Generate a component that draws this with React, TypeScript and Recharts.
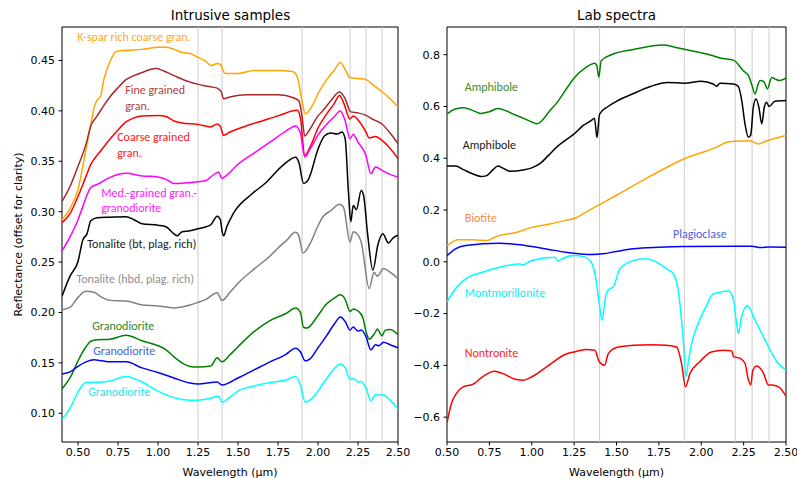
import { LineChart, Line, XAxis, YAxis, ReferenceLine, ReferenceArea, ReferenceDot } from "recharts";

type P = [number, number];

// wavelengths marked with thin grey lines (µm)
const bands = [1.25, 1.4, 1.9, 2.2, 2.3, 2.4];
const xTicksL = [0.5, 0.75, 1.0, 1.25, 1.5, 1.75, 2.0, 2.25, 2.5];
const xTicksR = [0.5, 0.75, 1.0, 1.25, 1.5, 1.75, 2.0, 2.25, 2.5];
const yTicksL = [0.1, 0.15, 0.2, 0.25, 0.3, 0.35, 0.4, 0.45];
const yTicksR = [-0.6, -0.4, -0.2, 0.0, 0.2, 0.4, 0.6, 0.8];

// ---- intrusive samples (wavelength, reflectance) ----
const kspar: P[] = [
  [0.4, 0.292], [0.45, 0.303], [0.5, 0.322], [0.55, 0.362], [0.58, 0.386], [0.6, 0.403], [0.62, 0.411],
  [0.64, 0.414], [0.66, 0.43], [0.7, 0.449], [0.74, 0.459], [0.8, 0.46], [0.9, 0.461], [1.0, 0.463],
  [1.05, 0.463], [1.1, 0.461], [1.15, 0.458], [1.2, 0.457], [1.25, 0.453], [1.3, 0.449], [1.33, 0.445],
  [1.37, 0.447], [1.39, 0.446], [1.42, 0.437], [1.5, 0.437], [1.6, 0.44], [1.75, 0.44], [1.84, 0.439],
  [1.87, 0.434], [1.9, 0.41], [1.92, 0.397], [1.96, 0.404], [2.0, 0.417], [2.05, 0.43], [2.1, 0.44],
  [2.14, 0.448], [2.17, 0.441], [2.2, 0.433], [2.25, 0.432], [2.3, 0.431], [2.35, 0.425], [2.4, 0.419],
  [2.45, 0.412], [2.5, 0.404],
];
const fineGran: P[] = [
  [0.4, 0.31], [0.45, 0.325], [0.5, 0.345], [0.55, 0.367], [0.58, 0.385], [0.62, 0.395], [0.66, 0.405],
  [0.7, 0.414], [0.75, 0.423], [0.8, 0.431], [0.85, 0.435], [0.9, 0.438], [0.95, 0.441], [0.99, 0.442],
  [1.03, 0.44], [1.1, 0.435], [1.2, 0.4285], [1.3, 0.4246], [1.37, 0.4226], [1.395, 0.419], [1.41, 0.412],
  [1.45, 0.4137], [1.55, 0.416], [1.75, 0.416], [1.85, 0.4127], [1.88, 0.41], [1.9, 0.395], [1.917, 0.375],
  [1.95, 0.382], [2.0, 0.395], [2.03, 0.4], [2.08, 0.41], [2.135, 0.4186], [2.17, 0.412], [2.204, 0.399],
  [2.25, 0.398], [2.3, 0.3955], [2.35, 0.391], [2.4, 0.387], [2.45, 0.378], [2.5, 0.3675],
];
const coarseGran: P[] = [
  [0.4, 0.289], [0.45, 0.298], [0.5, 0.315], [0.55, 0.335], [0.58, 0.347], [0.6, 0.352], [0.65, 0.362],
  [0.7, 0.372], [0.75, 0.381], [0.8, 0.389], [0.85, 0.393], [0.9, 0.395], [1.0, 0.3955], [1.05, 0.3944],
  [1.1, 0.39], [1.15, 0.388], [1.25, 0.3866], [1.33, 0.384], [1.37, 0.387], [1.39, 0.3846], [1.41, 0.3757],
  [1.45, 0.379], [1.55, 0.385], [1.65, 0.39], [1.75, 0.395], [1.87, 0.4005], [1.89, 0.393], [1.917, 0.3558],
  [1.95, 0.364], [2.0, 0.383], [2.05, 0.396], [2.1, 0.407], [2.135, 0.4153], [2.16, 0.408], [2.2, 0.392],
  [2.22, 0.395], [2.26, 0.389], [2.3, 0.379], [2.32, 0.373], [2.36, 0.3745], [2.4, 0.3707], [2.45, 0.363],
  [2.5, 0.3526],
];
const medGran: P[] = [
  [0.4, 0.261], [0.45, 0.275], [0.5, 0.292], [0.53, 0.305], [0.56, 0.318], [0.58, 0.324], [0.62, 0.327],
  [0.7, 0.334], [0.8, 0.338], [0.9, 0.3355], [1.0, 0.3345], [1.05, 0.332], [1.1, 0.328], [1.2, 0.329],
  [1.3, 0.331], [1.36, 0.338], [1.38, 0.339], [1.4, 0.333], [1.42, 0.335], [1.5, 0.347], [1.6, 0.358],
  [1.7, 0.369], [1.8, 0.38], [1.86, 0.385], [1.89, 0.378], [1.917, 0.3542], [1.95, 0.362], [2.0, 0.376],
  [2.05, 0.386], [2.1, 0.394], [2.139, 0.3998], [2.17, 0.39], [2.2, 0.3724], [2.22, 0.3768], [2.25, 0.369],
  [2.3, 0.3558], [2.33, 0.3377], [2.36, 0.3443], [2.4, 0.341], [2.45, 0.337], [2.5, 0.3344],
];
const tonaliteBt: P[] = [
  [0.4, 0.216], [0.45, 0.236], [0.5, 0.2506], [0.53, 0.272], [0.556, 0.278], [0.58, 0.291], [0.62, 0.294],
  [0.7, 0.2945], [0.8, 0.295], [0.85, 0.292], [0.9, 0.288], [1.0, 0.2865], [1.05, 0.285], [1.1, 0.278],
  [1.12, 0.276], [1.15, 0.28], [1.2, 0.281], [1.25, 0.283], [1.3, 0.285], [1.33, 0.287], [1.37, 0.2955],
  [1.39, 0.292], [1.4, 0.281], [1.41, 0.276], [1.43, 0.285], [1.47, 0.298], [1.59, 0.318], [1.676, 0.329],
  [1.78, 0.346], [1.86, 0.354], [1.88, 0.349], [1.91, 0.328], [1.94, 0.332], [2.0, 0.362], [2.04, 0.375],
  [2.08, 0.378], [2.12, 0.377], [2.15, 0.379], [2.17, 0.372], [2.19, 0.32], [2.205, 0.29], [2.22, 0.306],
  [2.24, 0.302], [2.27, 0.321], [2.285, 0.316], [2.31, 0.278], [2.343, 0.242], [2.374, 0.267], [2.405, 0.278],
  [2.44, 0.269], [2.47, 0.274], [2.5, 0.2766],
];
const tonaliteHbd: P[] = [
  [0.4, 0.2028], [0.45, 0.205], [0.5, 0.215], [0.55, 0.221], [0.6, 0.22], [0.65, 0.215], [0.7, 0.212],
  [0.8, 0.2115], [0.9, 0.2075], [1.0, 0.2065], [1.1, 0.2045], [1.2, 0.2075], [1.25, 0.21], [1.3, 0.213],
  [1.37, 0.2195], [1.4, 0.212], [1.45, 0.22], [1.5, 0.229], [1.6, 0.243], [1.7, 0.256], [1.75, 0.264],
  [1.8, 0.271], [1.86, 0.2795], [1.88, 0.276], [1.906, 0.259], [1.95, 0.268], [2.0, 0.286], [2.03, 0.2947],
  [2.08, 0.301], [2.135, 0.3073], [2.16, 0.304], [2.2, 0.27], [2.22, 0.28], [2.25, 0.277], [2.27, 0.27],
  [2.32, 0.2237], [2.35, 0.24], [2.37, 0.236], [2.41, 0.2436], [2.45, 0.24], [2.5, 0.2337],
];
const granoGreen: P[] = [
  [0.4, 0.1241], [0.45, 0.135], [0.5, 0.152], [0.55, 0.166], [0.58, 0.1715], [0.62, 0.173], [0.7, 0.1735],
  [0.8, 0.1775], [0.9, 0.172], [1.0, 0.167], [1.05, 0.163], [1.1, 0.156], [1.15, 0.15], [1.2, 0.1465],
  [1.25, 0.146], [1.33, 0.147], [1.37, 0.155], [1.4, 0.151], [1.45, 0.158], [1.5, 0.166], [1.6, 0.181],
  [1.7, 0.192], [1.8, 0.199], [1.86, 0.2045], [1.89, 0.2], [1.91, 0.185], [1.93, 0.1845], [2.0, 0.197],
  [2.05, 0.208], [2.1, 0.214], [2.14, 0.2175], [2.17, 0.213], [2.2, 0.201], [2.22, 0.2035], [2.25, 0.2015],
  [2.28, 0.195], [2.3, 0.181], [2.32, 0.1735], [2.36, 0.181], [2.37, 0.1835], [2.4, 0.177], [2.42, 0.1825],
  [2.45, 0.183], [2.5, 0.178],
];
const granoBlue: P[] = [
  [0.4, 0.139], [0.45, 0.141], [0.5, 0.1466], [0.55, 0.151], [0.6, 0.153], [0.65, 0.152], [0.7, 0.151],
  [0.8, 0.151], [0.9, 0.145], [1.0, 0.1405], [1.1, 0.135], [1.2, 0.13], [1.25, 0.129], [1.37, 0.131],
  [1.4, 0.128], [1.5, 0.135], [1.6, 0.143], [1.7, 0.151], [1.8, 0.1585], [1.86, 0.1645], [1.89, 0.161],
  [1.92, 0.152], [1.95, 0.154], [2.0, 0.165], [2.05, 0.176], [2.1, 0.188], [2.14, 0.1955], [2.17, 0.191],
  [2.2, 0.1825], [2.22, 0.1855], [2.25, 0.1815], [2.27, 0.1825], [2.3, 0.176], [2.33, 0.163], [2.36, 0.168],
  [2.38, 0.167], [2.41, 0.1705], [2.45, 0.168], [2.5, 0.165],
];
const granoCyan: P[] = [
  [0.4, 0.0937], [0.45, 0.105], [0.5, 0.121], [0.55, 0.1305], [0.65, 0.131], [0.7, 0.132], [0.8, 0.1365],
  [0.9, 0.131], [1.0, 0.122], [1.1, 0.1155], [1.2, 0.113], [1.25, 0.113], [1.33, 0.115], [1.38, 0.117],
  [1.4, 0.111], [1.45, 0.116], [1.5, 0.122], [1.6, 0.127], [1.7, 0.1305], [1.8, 0.133], [1.86, 0.1365],
  [1.89, 0.128], [1.92, 0.111], [1.95, 0.113], [2.0, 0.122], [2.05, 0.1335], [2.1, 0.144], [2.14, 0.149],
  [2.17, 0.145], [2.2, 0.134], [2.22, 0.1345], [2.25, 0.131], [2.27, 0.1315], [2.3, 0.125], [2.33, 0.1125],
  [2.36, 0.1185], [2.38, 0.118], [2.4, 0.1185], [2.45, 0.113], [2.5, 0.104],
];

// ---- lab spectra ----
const amphGreen: P[] = [
  [0.5, 0.571], [0.55, 0.59], [0.6, 0.595], [0.65, 0.585], [0.7, 0.573], [0.75, 0.58], [0.8, 0.592],
  [0.85, 0.583], [0.9, 0.568], [0.95, 0.555], [1.0, 0.54], [1.03, 0.533], [1.06, 0.545], [1.1, 0.578],
  [1.15, 0.616], [1.2, 0.664], [1.25, 0.71], [1.32, 0.751], [1.372, 0.767], [1.385, 0.755], [1.395, 0.713],
  [1.41, 0.777], [1.47, 0.8], [1.6, 0.82], [1.776, 0.837], [1.85, 0.828], [1.894, 0.822], [1.99, 0.809],
  [2.07, 0.796], [2.11, 0.787], [2.19, 0.779], [2.248, 0.738], [2.278, 0.72], [2.3, 0.68], [2.317, 0.648],
  [2.335, 0.685], [2.347, 0.7], [2.37, 0.695], [2.39, 0.668], [2.416, 0.712], [2.44, 0.705], [2.46, 0.7],
  [2.5, 0.709],
];
const amphBlack: P[] = [
  [0.5, 0.37], [0.55, 0.37], [0.6, 0.355], [0.65, 0.34], [0.7, 0.33], [0.73, 0.332], [0.77, 0.355],
  [0.8, 0.37], [0.83, 0.362], [0.87, 0.35], [0.95, 0.355], [1.0, 0.363], [1.05, 0.38], [1.1, 0.412],
  [1.15, 0.445], [1.2, 0.47], [1.25, 0.494], [1.3, 0.525], [1.35, 0.545], [1.37, 0.555], [1.385, 0.48],
  [1.4, 0.57], [1.45, 0.6], [1.5, 0.62], [1.6, 0.65], [1.7, 0.677], [1.8, 0.693], [1.9, 0.69], [2.0, 0.697],
  [2.07, 0.687], [2.09, 0.678], [2.11, 0.69], [2.19, 0.687], [2.218, 0.678], [2.239, 0.623], [2.258, 0.533],
  [2.278, 0.481], [2.292, 0.49], [2.307, 0.597], [2.323, 0.629], [2.34, 0.597], [2.357, 0.533], [2.372, 0.597],
  [2.386, 0.616], [2.4, 0.6], [2.435, 0.62], [2.5, 0.623],
];
const biotite: P[] = [
  [0.5, 0.063], [0.53, 0.075], [0.56, 0.085], [0.65, 0.085], [0.74, 0.082], [0.78, 0.095], [0.83, 0.105],
  [0.9, 0.112], [1.0, 0.133], [1.1, 0.145], [1.2, 0.16], [1.25, 0.167], [1.34, 0.2], [1.5, 0.257],
  [1.7, 0.331], [1.9, 0.398], [2.09, 0.443], [2.15, 0.462], [2.2, 0.466], [2.287, 0.468], [2.337, 0.455],
  [2.38, 0.466], [2.425, 0.475], [2.5, 0.488],
];
const plagioclase: P[] = [
  [0.5, 0.024], [0.55, 0.05], [0.61, 0.063], [0.81, 0.072], [1.0, 0.059], [1.1, 0.048], [1.2, 0.037],
  [1.36, 0.028], [1.42, 0.031], [1.5, 0.04], [1.6, 0.05], [1.75, 0.056], [1.89, 0.059], [2.2, 0.06],
  [2.3, 0.06], [2.35, 0.055], [2.4, 0.057], [2.5, 0.0565],
];
const montmorillonite: P[] = [
  [0.5, -0.155], [0.55, -0.104], [0.61, -0.066], [0.71, -0.04], [0.81, -0.021], [0.93, -0.008], [0.955, -0.012],
  [0.97, -0.005], [1.0, 0.005], [1.136, 0.018], [1.155, 0.003], [1.18, 0.012], [1.25, 0.024], [1.3, 0.021],
  [1.35, -0.001], [1.38, -0.072], [1.4, -0.17], [1.415, -0.226], [1.43, -0.16], [1.44, -0.123], [1.46, -0.104],
  [1.48, -0.098], [1.52, -0.027], [1.6, 0.005], [1.667, 0.012], [1.736, -0.001], [1.795, -0.027], [1.835, -0.046],
  [1.864, -0.11], [1.88, -0.2], [1.894, -0.303], [1.91, -0.444], [1.925, -0.38], [1.943, -0.316], [1.99, -0.226],
  [2.03, -0.17], [2.07, -0.125], [2.12, -0.117], [2.16, -0.112], [2.19, -0.148], [2.205, -0.22], [2.219, -0.276],
  [2.238, -0.212], [2.272, -0.17], [2.317, -0.225], [2.367, -0.289], [2.406, -0.34], [2.446, -0.386], [2.5, -0.418],
];
const nontronite: P[] = [
  [0.5, -0.622], [0.526, -0.547], [0.555, -0.509], [0.595, -0.483], [0.654, -0.473], [0.71, -0.444], [0.78, -0.423],
  [0.83, -0.432], [0.91, -0.455], [0.95, -0.457], [1.0, -0.444], [1.1, -0.4], [1.2, -0.357], [1.25, -0.348],
  [1.32, -0.339], [1.372, -0.342], [1.397, -0.384], [1.43, -0.4], [1.45, -0.357], [1.5, -0.331], [1.6, -0.322],
  [1.7, -0.32], [1.795, -0.322], [1.854, -0.329], [1.884, -0.393], [1.907, -0.483], [1.933, -0.432], [1.99, -0.387],
  [2.06, -0.348], [2.13, -0.342], [2.18, -0.344], [2.19, -0.366], [2.23, -0.373], [2.258, -0.392], [2.278, -0.456],
  [2.292, -0.476], [2.304, -0.42], [2.327, -0.402], [2.367, -0.43], [2.396, -0.476], [2.416, -0.476], [2.456, -0.483],
  [2.5, -0.519],
];

const leftSeries = [
  { key: "kspar", color: "#ffa500", pts: kspar },
  { key: "fine", color: "#a52a2a", pts: fineGran },
  { key: "coarse", color: "#ff0000", pts: coarseGran },
  { key: "med", color: "#ff00ff", pts: medGran },
  { key: "tonBt", color: "#000000", pts: tonaliteBt },
  { key: "tonHbd", color: "#808080", pts: tonaliteHbd },
  { key: "grGreen", color: "#008000", pts: granoGreen },
  { key: "grBlue", color: "#0000ff", pts: granoBlue },
  { key: "grCyan", color: "#00ffff", pts: granoCyan },
];
const rightSeries = [
  { key: "amphG", color: "#008000", pts: amphGreen },
  { key: "amphK", color: "#000000", pts: amphBlack },
  { key: "bio", color: "#ffa500", pts: biotite },
  { key: "plag", color: "#0000ff", pts: plagioclase },
  { key: "mont", color: "#00ffff", pts: montmorillonite },
  { key: "nont", color: "#ff0000", pts: nontronite },
];

// annotation text, anchored at its left-middle in data units
const leftNotes = [
  { text: "K-spar rich coarse gran.", x: 0.495, y: 0.4738, color: "#ffa820" },
  { text: "Fine grained", x: 0.795, y: 0.4213, color: "#b83c3c" },
  { text: "gran.", x: 0.795, y: 0.4054, color: "#b83c3c" },
  { text: "Coarse grained", x: 0.745, y: 0.3747, color: "#ff2020" },
  { text: "gran.", x: 0.745, y: 0.3588, color: "#ff2020" },
  { text: "Med.-grained gran.-", x: 0.645, y: 0.3192, color: "#ff20ff" },
  { text: "granodiorite", x: 0.645, y: 0.3043, color: "#ff20ff" },
  { text: "Tonalite (bt, plag. rich)", x: 0.558, y: 0.2686, color: "#202020" },
  { text: "Tonalite (hbd, plag. rich)", x: 0.49, y: 0.233, color: "#909090" },
  { text: "Granodiorite", x: 0.589, y: 0.1864, color: "#2e8a2e" },
  { text: "Granodiorite", x: 0.595, y: 0.1616, color: "#4466e0" },
  { text: "Granodiorite", x: 0.564, y: 0.121, color: "#20e8f0" },
];
const rightNotes = [
  { text: "Amphibole", x: 0.6045, y: 0.6767, color: "#3c8c2c" },
  { text: "Amphibole", x: 0.593, y: 0.4532, color: "#202020" },
  { text: "Biotite", x: 0.6045, y: 0.172, color: "#f58a45" },
  { text: "Plagioclase", x: 1.833, y: 0.11, color: "#4466e0" },
  { text: "Montmorillonite", x: 0.6045, y: -0.121, color: "#20e8f0" },
  { text: "Nontronite", x: 0.6045, y: -0.352, color: "#ff2020" },
];

const tickFont = { fontSize: 11, fill: "#000", fontFamily: "DejaVu Sans" };
const noteFont = "Carlito, 'Liberation Sans Narrow', 'Liberation Sans', sans-serif";
const rows = (pts: P[]) => pts.map(([x, y]) => ({ x, y }));
const fmtR = (v: number) => v.toFixed(1).replace("-", "\u2212");

const yDomL: [number, number] = [0.0715, 0.4832];
const yDomR: [number, number] = [-0.696, 0.907];

function Panel(props: {
  width: number;
  yWidth: number;
  right: number;
  xDom: [number, number];
  yDom: [number, number];
  xTicks: number[];
  yTicks: number[];
  yFmt: (v: number) => string;
  series: { key: string; color: string; pts: P[] }[];
  notes: { text: string; x: number; y: number; color: string }[];
  yLabel?: string;
}) {
  const { xDom, yDom } = props;
  return (
    <LineChart width={props.width} height={478} margin={{ top: 27, right: props.right, bottom: 0, left: 0 }}>
      <XAxis
        dataKey="x"
        type="number"
        domain={xDom}
        ticks={props.xTicks}
        allowDataOverflow
        tickFormatter={(v: number) => v.toFixed(2)}
        tick={tickFont}
        tickSize={3.5}
        tickMargin={3}
        height={36}
        stroke="#000"
        axisLine={false}
        interval={0}
        label={{ value: "Wavelength (µm)", position: "insideBottom", offset: 2, fill: "#000", fontSize: 11, fontFamily: "DejaVu Sans" }}
      />
      <YAxis
        type="number"
        domain={yDom}
        ticks={props.yTicks}
        allowDataOverflow
        tickFormatter={props.yFmt}
        tick={tickFont}
        tickSize={3.5}
        tickMargin={3.5}
        width={props.yWidth}
        stroke="#000"
        axisLine={false}
        interval={0}
        label={
          props.yLabel
            ? { value: props.yLabel, angle: -90, position: "insideLeft", offset: 18, fill: "#000", fontSize: 11, fontFamily: "DejaVu Sans", style: { textAnchor: "middle" } }
            : undefined
        }
      />
      {bands.map((b) => (
        <ReferenceLine key={b} x={b} stroke="#cccccc" strokeWidth={1} />
      ))}
      {props.series.map((s) => (
        <Line
          key={s.key}
          data={rows(s.pts)}
          dataKey="y"
          type="monotone"
          stroke={s.color}
          strokeWidth={1.5}
          dot={false}
          isAnimationActive={false}
        />
      ))}
      {props.notes.map((n, i) => (
        <ReferenceDot
          key={i}
          x={n.x}
          y={n.y}
          r={0}
          fill="none"
          stroke="none"
          label={{ value: n.text, position: "right", offset: 0, fill: n.color, fontSize: 12, fontFamily: noteFont }}
        />
      ))}
      <ReferenceArea x1={xDom[0]} x2={xDom[1]} y1={yDom[0]} y2={yDom[1]} fill="none" stroke="#000" strokeWidth={1} />
    </LineChart>
  );
}

export default function App() {
  return (
    <div style={{ position: "absolute", left: 0, top: 0, width: 797, height: 478, background: "#fff", overflow: "hidden" }}>
      <div style={{ position: "absolute", left: 0, top: 0 }}>
        <Panel
          width={425}
          yWidth={62}
          right={27}
          xDom={[0.4, 2.5]}
          yDom={yDomL}
          xTicks={xTicksL}
          yTicks={yTicksL}
          yFmt={(v) => v.toFixed(2)}
          series={leftSeries}
          notes={leftNotes}
          yLabel="Reflectance (offset for clarity)"
        />
      </div>
      <div style={{ position: "absolute", left: 400, top: 0 }}>
        <Panel
          width={397}
          yWidth={47}
          right={11}
          xDom={[0.5, 2.5]}
          yDom={yDomR}
          xTicks={xTicksR}
          yTicks={yTicksR}
          yFmt={fmtR}
          series={rightSeries}
          notes={rightNotes}
        />
      </div>
      <svg width={797} height={26} style={{ position: "absolute", left: 0, top: 0, pointerEvents: "none" }}>
        <text x={230.5} y={20} textAnchor="middle" fontFamily="DejaVu Sans" fontSize={13.5} fill="#000">
          Intrusive samples
        </text>
        <text x={616.5} y={20} textAnchor="middle" fontFamily="DejaVu Sans" fontSize={13.5} fill="#000">
          Lab spectra
        </text>
      </svg>
    </div>
  );
}
